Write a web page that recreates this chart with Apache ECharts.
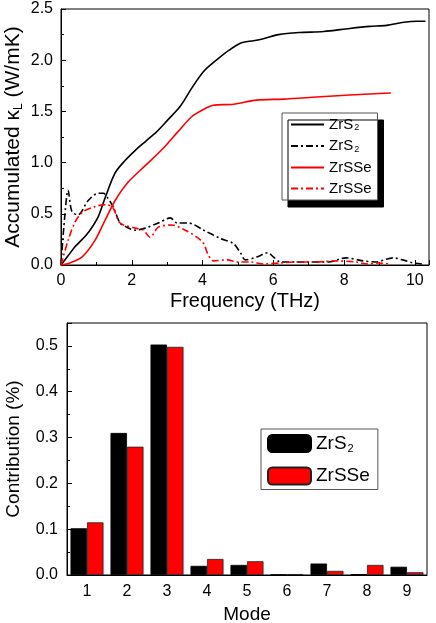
<!DOCTYPE html>
<html>
<head>
<meta charset="utf-8">
<script src="https://cdn.jsdelivr.net/npm/echarts@6/dist/echarts.min.js"></script>
<style>
    html, body { margin: 0; padding: 0; background: #fff; }
    #chart { width: 436px; height: 623px; }
</style>
</head>
<body>
<div id="chart"></div>
<script>
// 累积热导率 ZrS2（实线）
const accS2Freq = [0, 0.2, 0.4, 0.6, 0.8, 1.05, 1.25, 1.53, 1.81, 2.1, 2.4, 2.7, 3.0, 3.37, 3.7, 4.03, 4.39, 4.76, 5.1, 5.44, 5.72, 6.15, 6.74, 7.42, 8.16, 8.73, 9.2, 9.69, 10.06, 10.3];
const accS2Vals = [0, 0.09, 0.18, 0.25, 0.33, 0.47, 0.66, 0.9, 1.02, 1.12, 1.21, 1.3, 1.41, 1.55, 1.73, 1.89, 2.0, 2.1, 2.17, 2.19, 2.21, 2.25, 2.27, 2.28, 2.31, 2.33, 2.34, 2.37, 2.38, 2.38];

// 累积热导率 ZrSSe（实线）
const accSSeFreq = [0, 0.25, 0.6, 0.96, 1.25, 1.53, 1.9, 2.38, 2.86, 3.3, 3.7, 4.03, 4.3, 4.87, 5.52, 6.29, 7.22, 8.16, 8.73, 9.32];
const accSSeVals = [0, 0.02, 0.08, 0.24, 0.44, 0.63, 0.81, 0.97, 1.13, 1.3, 1.45, 1.52, 1.56, 1.57, 1.61, 1.62, 1.64, 1.66, 1.67, 1.68];

// 频谱 ZrS2（点划线）
const specS2Freq = [0, 0.1, 0.2, 0.31, 0.48, 0.77, 1.05, 1.2, 1.33, 1.47, 1.67, 1.85, 2.1, 2.38, 2.75, 3.09, 3.28, 3.6, 4.03, 4.5, 4.87, 5.07, 5.21, 5.55, 5.84, 6.0, 6.2, 6.7, 7.56, 8.05, 8.53, 8.9, 9.38, 9.66, 9.94, 10.2];
const specS2Vals = [0, 0.45, 0.73, 0.52, 0.49, 0.63, 0.70, 0.70, 0.65, 0.57, 0.41, 0.37, 0.34, 0.36, 0.41, 0.46, 0.41, 0.41, 0.34, 0.26, 0.21, 0.12, 0.05, 0.08, 0.12, 0.08, 0.03, 0.03, 0.03, 0.07, 0.04, 0.03, 0.07, 0.05, 0.02, 0.01];

// 频谱 ZrSSe（点划线）
const specSSeFreq = [0, 0.2, 0.4, 0.62, 0.96, 1.25, 1.47, 1.67, 2.1, 2.33, 2.52, 2.75, 3.14, 3.51, 3.85, 4.03, 4.16, 4.31, 4.7, 4.99, 5.35, 5.72, 6.2, 6.7, 7.2, 7.76, 8.33, 8.67, 8.98, 9.3];
const specSSeVals = [0, 0.24, 0.42, 0.52, 0.57, 0.59, 0.56, 0.41, 0.36, 0.34, 0.27, 0.37, 0.39, 0.34, 0.27, 0.21, 0.1, 0.04, 0.05, 0.03, 0.03, 0.01, 0.02, 0.03, 0.03, 0.04, 0.03, 0.01, 0.02, 0.01];

// 各模式贡献
const modes = ['1', '2', '3', '4', '5', '6', '7', '8', '9'];
const contribS2 = [0.102, 0.31, 0.503, 0.02, 0.022, 0.001, 0.025, 0.002, 0.018];
const contribSSe = [0.115, 0.28, 0.498, 0.035, 0.03, 0.002, 0.009, 0.022, 0.006];

const FONT = 'Liberation Sans, Arial, sans-serif';
const DASH_DOT = [7, 3, 2, 3];

// 图例名称 -> 带下标的富文本
const LABELS = {
    accS2: '{n|ZrS}{s|2}',
    specS2: '{n|ZrS}{s|2}',
    accSSe: '{n|ZrSSe}',
    specSSe: '{n|ZrSSe}',
    barS2: '{n|ZrS}{s|2}',
    barSSe: '{n|ZrSSe}'
};

const zip = (xs, ys) => xs.map((x, i) => [x, ys[i]]);

function valueAxis(opts) {
    return Object.assign({
        type: 'value',
        axisLine: { show: true, lineStyle: { color: '#000', width: 1 } },
        axisTick: { show: true, inside: true, length: 5, lineStyle: { color: '#000' } },
        minorTick: { show: true, splitNumber: 2, length: 3, lineStyle: { color: '#000' } },
        splitLine: { show: false },
        axisLabel: { color: '#000', fontSize: 16, fontFamily: FONT, showMaxLabel: false },
        nameLocation: 'middle',
        nameMoveOverlap: false,
        nameTextStyle: { color: '#000', fontSize: 20, fontFamily: FONT }
    }, opts);
}

const chart = echarts.init(document.getElementById('chart'));

const option = {
    backgroundColor: '#fff',
    animation: false,
    textStyle: { fontFamily: FONT },
    grid: [
        { left: 61, top: 9, width: 368, height: 256, show: true, borderColor: '#000', borderWidth: 1, outerBoundsMode: 'none', containLabel: false },
        { left: 67, top: 323, width: 360, height: 252, show: true, borderColor: '#000', borderWidth: 1, outerBoundsMode: 'none', containLabel: false }
    ],
    legend: [
        {
            data: ['accS2', 'specS2', 'accSSe', 'specSSe'],
            orient: 'vertical',
            left: 282,
            top: 113,
            itemWidth: 33,
            itemHeight: 12,
            itemGap: 6,
            padding: [4, 6, 4, 8],
            backgroundColor: '#fff',
            borderColor: '#555',
            borderWidth: 1,
            shadowColor: '#000',
            shadowBlur: 0,
            shadowOffsetX: 6,
            shadowOffsetY: 7,
            itemStyle: { color: 'rgba(0,0,0,0)', borderWidth: 0, opacity: 0 },
            formatter: name => LABELS[name],
            textStyle: {
                color: '#000',
                rich: {
                    n: { fontSize: 15, fontFamily: FONT, color: '#000' },
                    s: { fontSize: 9, fontFamily: FONT, color: '#000', padding: [7, 0, 0, 1] }
                }
            }
        },
        {
            data: ['barS2', 'barSSe'],
            orient: 'vertical',
            left: 261,
            top: 429,
            itemWidth: 43,
            itemHeight: 17,
            itemGap: 12,
            padding: [5, 8, 4, 6],
            backgroundColor: '#fff',
            borderColor: '#555',
            borderWidth: 1,
            formatter: name => LABELS[name],
            textStyle: {
                color: '#000',
                rich: {
                    n: { fontSize: 19, fontFamily: FONT, color: '#000' },
                    s: { fontSize: 11, fontFamily: FONT, color: '#000', padding: [11, 0, 0, 1] }
                }
            }
        }
    ],
    xAxis: [
        valueAxis({
            gridIndex: 0,
            min: 0,
            max: 10.4,
            interval: 2,
            name: 'Frequency (THz)',
            nameGap: 26
        }),
        {
            type: 'category',
            gridIndex: 1,
            data: modes,
            boundaryGap: true,
            axisLine: { show: true, lineStyle: { color: '#000', width: 1 } },
            axisTick: { show: false },
            axisLabel: { color: '#000', fontSize: 16, fontFamily: FONT, margin: 9 },
            name: 'Mode',
            nameLocation: 'middle',
            nameMoveOverlap: false,
            nameGap: 30,
            nameTextStyle: { color: '#000', fontSize: 19, fontFamily: FONT }
        }
    ],
    yAxis: [
        valueAxis({
            gridIndex: 0,
            min: 0,
            max: 2.5,
            interval: 0.5,
            axisLabel: { color: '#000', fontSize: 16, fontFamily: FONT, margin: 8, formatter: v => v.toFixed(1) },
            name: '{n|Accumulated κ}{s|L}{n| (W/mK)}',
            nameGap: 36,
            nameTextStyle: {
                color: '#000',
                rich: {
                    n: { fontSize: 21, fontFamily: FONT, color: '#000' },
                    s: { fontSize: 12, fontFamily: FONT, color: '#000', padding: [12, 0, 0, 0] }
                }
            }
        }),
        valueAxis({
            gridIndex: 1,
            min: 0,
            max: 0.55,
            interval: 0.1,
            axisLabel: { color: '#000', fontSize: 16, fontFamily: FONT, margin: 9, showMaxLabel: false, formatter: v => v.toFixed(1) },
            name: 'Contribution (%)',
            nameGap: 44,
            nameTextStyle: { color: '#000', fontSize: 19, fontFamily: FONT }
        })
    ],
    series: [
        {
            name: 'accS2', type: 'line', xAxisIndex: 0, yAxisIndex: 0,
            data: zip(accS2Freq, accS2Vals), smooth: 0.3, symbol: 'none',
            lineStyle: { color: '#000', width: 1.6 }, itemStyle: { color: '#000' }
        },
        {
            name: 'specS2', type: 'line', xAxisIndex: 0, yAxisIndex: 0,
            data: zip(specS2Freq, specS2Vals), smooth: 0.3, symbol: 'none',
            lineStyle: { color: '#000', width: 1.6, type: DASH_DOT }, itemStyle: { color: '#000' }
        },
        {
            name: 'accSSe', type: 'line', xAxisIndex: 0, yAxisIndex: 0,
            data: zip(accSSeFreq, accSSeVals), smooth: 0.3, symbol: 'none',
            lineStyle: { color: '#ff0000', width: 1.6 }, itemStyle: { color: '#ff0000' }
        },
        {
            name: 'specSSe', type: 'line', xAxisIndex: 0, yAxisIndex: 0,
            data: zip(specSSeFreq, specSSeVals), smooth: 0.3, symbol: 'none',
            lineStyle: { color: '#ff0000', width: 1.6, type: DASH_DOT }, itemStyle: { color: '#ff0000' }
        },
        {
            name: 'barS2', type: 'bar', xAxisIndex: 1, yAxisIndex: 1,
            data: contribS2, barWidth: 16.5, barGap: '0%',
            itemStyle: { color: '#000', borderColor: '#000', borderWidth: 0.8 }
        },
        {
            name: 'barSSe', type: 'bar', xAxisIndex: 1, yAxisIndex: 1,
            data: contribSSe, barWidth: 16.5, barGap: '0%',
            itemStyle: { color: '#ff0000', borderColor: '#222', borderWidth: 0.8 }
        }
    ]
};

chart.setOption(option);
window.addEventListener('resize', () => chart.resize());
</script>
</body>
</html>
